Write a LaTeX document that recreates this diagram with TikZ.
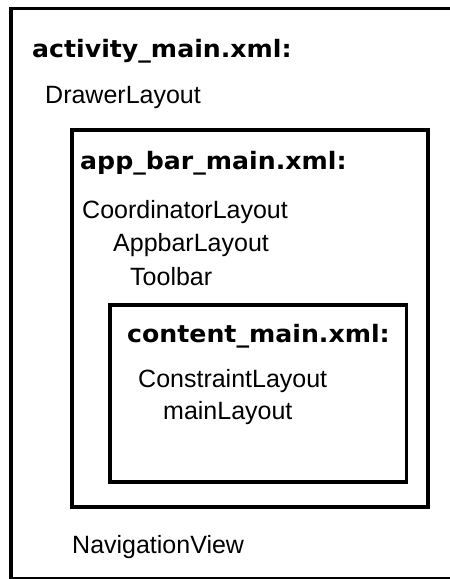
\documentclass[tikz,border=0pt]{standalone}
\usepackage{fontspec}
\setmainfont{Liberation Sans}
\newfontfamily\xmlfont[FakeStretch=1.05]{DejaVu Sans}

\begin{document}
\begin{tikzpicture}[x=1pt,y=-1pt,
                    frame/.style={line width=3.5pt},
                    filename/.style={anchor=base west,inner sep=0pt,font=\xmlfont\bfseries\fontsize{24}{28}\selectfont},
                    viewname/.style={anchor=base west,inner sep=0pt,font=\fontsize{25}{30}\selectfont}]
                    \useasboundingbox (0,0) rectangle (450,579);
                    \clip (0,0) rectangle (450,579);

                    \draw[frame] (11,8.5) rectangle (455,579); % activity_main
                    \draw[frame] (72,130) rectangle (428,507); % app_bar_main
                    \draw[frame] (110,305) rectangle (406.5,482); % content_main

                    \node[filename] (activity) at (32,57) {activity\_main.xml:};
                    \node[viewname] (drawer) at (45,103) {DrawerLayout};

                    \node[filename] (appbarmain) at (80,169) {app\_bar\_main.xml:};
                    \node[viewname] (coordinator) at (82,218) {CoordinatorLayout};
                    \node[viewname] (appbar) at (113,251) {AppbarLayout};
                    \node[viewname] (toolbar) at (130,285) {Toolbar};

                    \node[filename] (content) at (127,342) {content\_main.xml:};
                    \node[viewname] (constraint) at (138,387) {ConstraintLayout};
                    \node[viewname] (mainlayout) at (163,419) {mainLayout};

                    \node[viewname] (navigation) at (72,553) {NavigationView};
                \end{tikzpicture}
\end{document}
